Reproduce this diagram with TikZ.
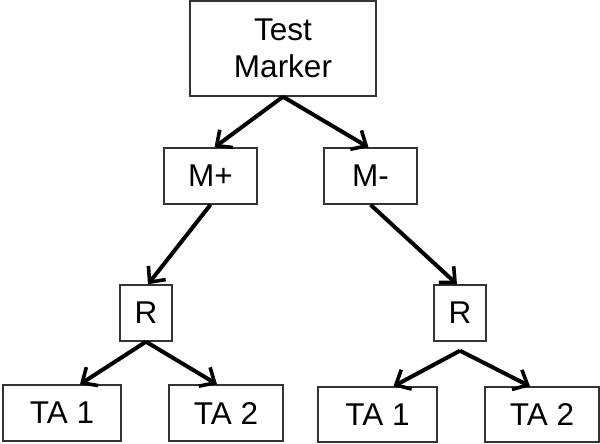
\documentclass[tikz,border=0pt]{standalone}
\usepackage{fontspec}
\setmainfont{Liberation Sans}
\usetikzlibrary{arrows.meta}
\begin{document}
\begin{tikzpicture}[x=1pt,y=-1pt,
  box/.style={draw=black!80, line width=1.4pt, inner sep=0pt, align=center,
    font=\fontsize{31.5}{37}\selectfont},
  conn/.style={line width=4pt, -{Straight Barb[length=12pt,width=22pt,line width=3.6pt]}}]
\useasboundingbox (0,0) rectangle (600,444);
\node[box, minimum width=186pt, minimum height=95pt] (top) at (283,48.5) {Test\\Marker};
\node[box, minimum width=93pt, minimum height=56pt] (mp) at (210.5,176) {M+};
\node[box, minimum width=93pt, minimum height=56pt] (mm) at (370.5,176) {M-};
\node[box, minimum width=52pt, minimum height=56pt] (rl) at (146,313) {R};
\node[box, minimum width=52pt, minimum height=56pt] (rr) at (460,313) {R};
\node[box, minimum width=118pt, minimum height=56pt] (ta1l) at (62,413) {TA 1};
\node[box, minimum width=114pt, minimum height=56pt] (ta2l) at (226,413) {TA 2};
\node[box, minimum width=119pt, minimum height=55pt] (ta1r) at (377.5,414.5) {TA 1};
\node[box, minimum width=114pt, minimum height=55pt] (ta2r) at (542,414.5) {TA 2};
\draw[conn] (top.south) -- ([xshift=4pt]mp.north);
\draw[conn] (top.south) -- ([xshift=-2pt]mm.north);
\draw[conn] (mp.south) -- ([xshift=2pt]rl.north);
\draw[conn] (mm.south) -- ([xshift=-3pt]rr.north);
\draw[conn] (rl.south) -- ([xshift=18pt]ta1l.north);
\draw[conn] (rl.south) -- ([xshift=-9pt]ta2l.north);
\draw[conn] ([yshift=-9pt]rr.south) -- ([xshift=16pt]ta1r.north);
\draw[conn] ([yshift=-9pt]rr.south) -- ([xshift=-12pt]ta2r.north);
\end{tikzpicture}
\end{document}
